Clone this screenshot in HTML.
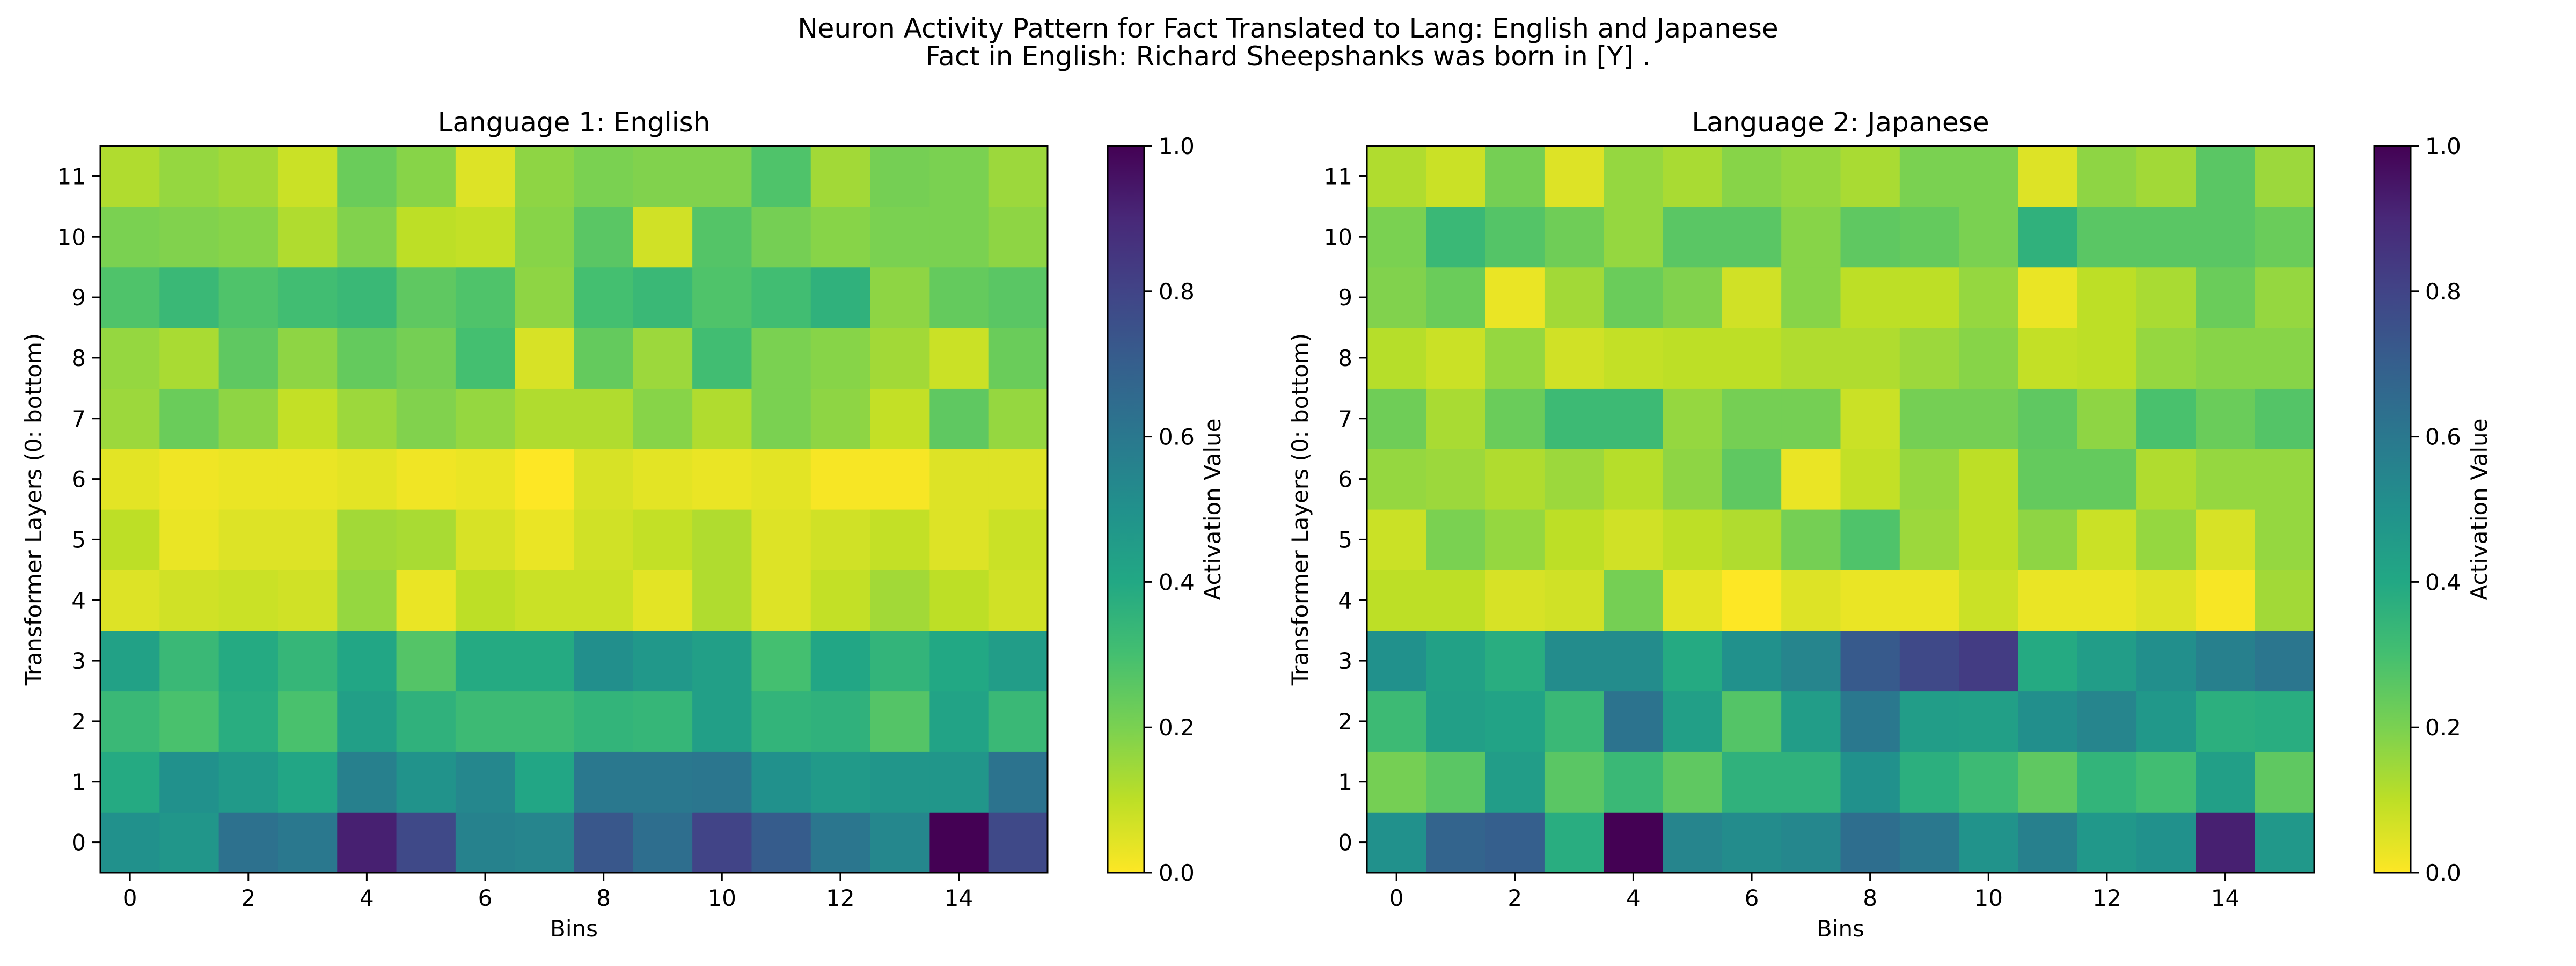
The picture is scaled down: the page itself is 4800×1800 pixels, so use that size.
<!DOCTYPE html>
<html><head><meta charset="utf-8"><style>
html,body{margin:0;padding:0;background:#fff;}
svg{display:block;font-family:"DejaVu Sans","Liberation Sans",sans-serif;}
</style></head><body>
<svg id="fig" width="4800" height="1800" viewBox="0 0 4800 1800" xmlns="http://www.w3.org/2000/svg">
<rect width="4800" height="1800" fill="#fff"/>
<text x="2400" y="70" font-size="50" text-anchor="middle">Neuron Activity Pattern for Fact Translated to Lang: English and Japanese</text>
<text x="2400" y="122" font-size="50" text-anchor="middle">Fact in English: Richard Sheepshanks was born in [Y] .</text>
<defs>
<linearGradient id="vir" x1="0" y1="1" x2="0" y2="0">
<stop offset="0" stop-color="#fde725"/><stop offset="0.1" stop-color="#bddf26"/><stop offset="0.2" stop-color="#7ad151"/><stop offset="0.3" stop-color="#44bf70"/><stop offset="0.4" stop-color="#22a884"/><stop offset="0.5" stop-color="#21918c"/><stop offset="0.6" stop-color="#2a788e"/><stop offset="0.7" stop-color="#355f8d"/><stop offset="0.8" stop-color="#414487"/><stop offset="0.9" stop-color="#482878"/><stop offset="1" stop-color="#440154"/>
</linearGradient>
</defs>
<g id="plots"></g>
</svg>
<script>
const bins = [0,1,2,3,4,5,6,7,8,9,10,11,12,13,14,15];
const layers = [0,1,2,3,4,5,6,7,8,9,10,11];
const xTickLabels = ["0","2","4","6","8","10","12","14"];
const yTickLabels = ["0","1","2","3","4","5","6","7","8","9","10","11"];
const cbarTickLabels = ["0.0","0.2","0.4","0.6","0.8","1.0"];
// rows listed from layer 0 (bottom) to layer 11 (top)
const englishValues = [
[0.5,0.48,0.63,0.6,0.92,0.78,0.56,0.55,0.73,0.64,0.8,0.71,0.61,0.54,1.0,0.78],
[0.39,0.5,0.46,0.41,0.57,0.49,0.54,0.41,0.6,0.6,0.61,0.5,0.46,0.48,0.48,0.62],
[0.33,0.29,0.38,0.29,0.44,0.36,0.32,0.32,0.35,0.34,0.44,0.35,0.36,0.27,0.42,0.33],
[0.43,0.33,0.39,0.34,0.41,0.27,0.39,0.39,0.51,0.47,0.44,0.3,0.41,0.35,0.4,0.45],
[0.05,0.07,0.08,0.07,0.16,0.03,0.1,0.08,0.08,0.04,0.12,0.05,0.09,0.14,0.1,0.07],
[0.1,0.03,0.05,0.05,0.14,0.13,0.06,0.03,0.07,0.09,0.12,0.05,0.07,0.09,0.05,0.08],
[0.04,0.02,0.03,0.03,0.04,0.02,0.03,0.0,0.06,0.04,0.03,0.04,0.01,0.01,0.05,0.05],
[0.15,0.23,0.17,0.09,0.15,0.19,0.16,0.12,0.12,0.18,0.12,0.2,0.17,0.09,0.25,0.16],
[0.16,0.13,0.25,0.17,0.24,0.21,0.3,0.06,0.24,0.15,0.31,0.2,0.18,0.14,0.08,0.23],
[0.28,0.33,0.28,0.31,0.33,0.25,0.28,0.17,0.3,0.33,0.28,0.31,0.36,0.17,0.24,0.26],
[0.2,0.19,0.18,0.12,0.19,0.1,0.09,0.18,0.26,0.07,0.27,0.21,0.18,0.2,0.2,0.17],
[0.12,0.16,0.14,0.08,0.23,0.18,0.05,0.17,0.2,0.19,0.19,0.28,0.14,0.21,0.2,0.15]
];
const japaneseValues = [
[0.5,0.68,0.7,0.38,1.0,0.55,0.52,0.54,0.64,0.6,0.49,0.57,0.47,0.5,0.92,0.47],
[0.21,0.26,0.45,0.26,0.33,0.25,0.36,0.36,0.5,0.37,0.32,0.25,0.35,0.31,0.44,0.25],
[0.32,0.44,0.42,0.33,0.62,0.44,0.27,0.45,0.6,0.45,0.44,0.51,0.55,0.47,0.37,0.38],
[0.5,0.43,0.38,0.52,0.52,0.39,0.5,0.55,0.72,0.78,0.83,0.39,0.45,0.51,0.57,0.61],
[0.1,0.1,0.06,0.07,0.21,0.04,0.0,0.05,0.03,0.03,0.08,0.03,0.03,0.05,0.01,0.14],
[0.08,0.2,0.16,0.1,0.07,0.1,0.12,0.21,0.28,0.15,0.1,0.17,0.08,0.16,0.06,0.16],
[0.16,0.15,0.12,0.15,0.11,0.17,0.25,0.03,0.09,0.16,0.1,0.24,0.24,0.12,0.16,0.16],
[0.22,0.13,0.23,0.32,0.32,0.16,0.21,0.21,0.08,0.21,0.21,0.25,0.17,0.29,0.23,0.27],
[0.11,0.08,0.16,0.07,0.09,0.1,0.1,0.12,0.12,0.15,0.18,0.09,0.1,0.16,0.18,0.18],
[0.19,0.23,0.03,0.14,0.23,0.19,0.07,0.18,0.1,0.1,0.16,0.03,0.1,0.13,0.23,0.16],
[0.2,0.33,0.27,0.22,0.16,0.26,0.26,0.18,0.25,0.24,0.2,0.36,0.26,0.26,0.26,0.23],
[0.12,0.08,0.21,0.05,0.16,0.13,0.18,0.16,0.13,0.2,0.2,0.05,0.17,0.14,0.26,0.15]
];
const VIR = [[68,1,84],[72,40,120],[65,68,135],[53,95,141],[42,120,142],[33,145,140],[34,168,132],[68,191,112],[122,209,81],[189,223,38],[253,231,37]];
function color(v){ // viridis_r
  let t = 1 - Math.max(0, Math.min(1, v));
  let p = t*10, i = Math.min(9, Math.floor(p)), f = p - i;
  const a = VIR[i], b = VIR[i+1];
  return 'rgb(' + a.map((c,k)=>Math.round(c+(b[k]-c)*f)).join(',') + ')';
}
const NS = 'http://www.w3.org/2000/svg';
const root = document.getElementById('plots');
function mk(tag, attrs, parent, txt){
  const e = document.createElementNS(NS, tag);
  for (const k in attrs) e.setAttribute(k, attrs[k]);
  if (txt !== undefined) e.textContent = txt;
  parent.appendChild(e); return e;
}
function panel(ox, title, values, key){
  const L = ox, R = ox + 1765, T = 272, B = 1626;
  const xs = b => L + (b + 0.5) * (R - L) / bins.length;
  const ys = l => B - (l + 0.5) * (B - T) / layers.length;
  const cw = (R - L) / bins.length, ch = (B - T) / layers.length;
  const g = mk('g', {}, root);
  
  
  layers.forEach((l, li) => bins.forEach((b, bi) => {
    const r = mk('rect', {x: xs(b) - cw/2, y: ys(l) - ch/2, width: cw + 0.6, height: ch + 0.6, fill: color(values[li][bi])}, g);
    
    
  }));
  const fr = mk('rect', {x: L, y: T, width: R - L, height: B - T, fill: 'none', stroke: '#000', 'stroke-width': 3}, g);
  
  
  xTickLabels.forEach(s => {
    const x = xs(+s);
    mk('line', {x1: x, x2: x, y1: B, y2: B + 15, stroke: '#000', 'stroke-width': 3}, g);
    const t = mk('text', {x: x, y: B + 62, 'font-size': 42, 'text-anchor': 'middle'}, g, s);
    
    
  });
  yTickLabels.forEach(s => {
    const y = ys(+s);
    mk('line', {x1: L - 15, x2: L, y1: y, y2: y, stroke: '#000', 'stroke-width': 3}, g);
    const t = mk('text', {x: L - 27, y: y + 15, 'font-size': 42, 'text-anchor': 'end'}, g, s);
    
    
  });
  const tt = mk('text', {x: (L + R)/2, y: 245, 'font-size': 50, 'text-anchor': 'middle'}, g, title);
  
  
  const xl = mk('text', {x: (L + R)/2, y: 1745, 'font-size': 42, 'text-anchor': 'middle'}, g, 'Bins');
  
  
  const yl = mk('text', {x: 0, y: 0, 'font-size': 42, 'text-anchor': 'middle', transform: 'translate(' + (L - 110) + ',' + ((T + B)/2) + ') rotate(-90)'}, g, 'Transformer Layers (0: bottom)');
  
  
  // colorbar
  const cx = ox + 1877, cwid = 68;
  const cb = mk('rect', {x: cx, y: T, width: cwid, height: B - T, fill: 'url(#vir)', stroke: '#000', 'stroke-width': 3}, g);
  
  
  cbarTickLabels.forEach(s => {
    const y = B - (+s) * (B - T);
    mk('line', {x1: cx + cwid, x2: cx + cwid + 15, y1: y, y2: y, stroke: '#000', 'stroke-width': 3}, g);
    const t = mk('text', {x: cx + cwid + 27, y: y + 15, 'font-size': 42}, g, s);
    
    
  });
  const cl = mk('text', {x: 0, y: 0, 'font-size': 42, 'text-anchor': 'middle', transform: 'translate(' + (cx + 210) + ',' + ((T + B)/2) + ') rotate(-90)'}, g, 'Activation Value');
  
  
}
panel(187, 'Language 1: English', englishValues, 'english');
panel(2547, 'Language 2: Japanese', japaneseValues, 'japanese');
</script>
</body></html>
